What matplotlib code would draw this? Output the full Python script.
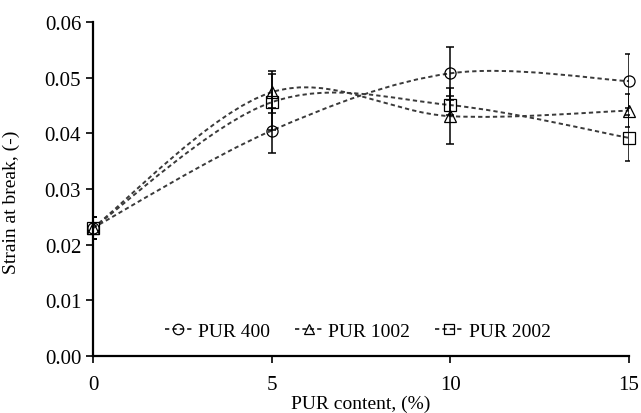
import matplotlib
matplotlib.use('Agg')
import matplotlib.pyplot as plt
from matplotlib.path import Path
from matplotlib.patches import PathPatch
from matplotlib.lines import Line2D

plt.rcParams['font.family'] = ['Liberation Serif', 'DejaVu Serif']

# data
pur_content = [0, 5, 10, 15]
pur400 = [0.023, 0.0405, 0.0508, 0.0494]
pur400_err = [0.002, 0.004, 0.0048, 0.0048]
pur1002 = [0.023, 0.0474, 0.0431, 0.0441]
pur1002_err = [0.002, 0.0038, 0.005, 0.003]
pur2002 = [0.023, 0.0456, 0.0451, 0.0392]
pur2002_err = [0.002, 0.005, 0.0017, 0.0042]
labels = ['PUR 400', 'PUR 1002', 'PUR 2002']
markers = ['o', '^', 's']

line_col = '#3a3a3a'
dash = (0, (2.2, 1.6))


def smooth_path(x, y):
    # excel style smoothed line: cubic bezier through every point
    n = len(x)
    verts = [(x[0], y[0])]
    codes = [Path.MOVETO]
    for i in range(n - 1):
        i0 = max(i - 1, 0)
        i3 = min(i + 2, n - 1)
        c1 = (x[i] + (x[i + 1] - x[i0]) / 6.0, y[i] + (y[i + 1] - y[i0]) / 6.0)
        c2 = (x[i + 1] - (x[i3] - x[i]) / 6.0, y[i + 1] - (y[i3] - y[i]) / 6.0)
        verts += [c1, c2, (x[i + 1], y[i + 1])]
        codes += [Path.CURVE4] * 3
    return Path(verts, codes)


fig = plt.figure(figsize=(6.41, 4.14), dpi=100)
ax = fig.add_axes([0.145, 0.138, 0.836, 0.806])

handles = []
for vals, errs, lab, mk in zip([pur400, pur1002, pur2002],
                               [pur400_err, pur1002_err, pur2002_err],
                               labels, markers):
    ax.add_patch(PathPatch(smooth_path(pur_content, vals), fill=False,
                           edgecolor=line_col, lw=1.4, linestyle=dash, zorder=2))
    ax.errorbar(pur_content, vals, yerr=errs, fmt='none', ecolor='black',
                elinewidth=1.1, capsize=2.6, capthick=1.1, zorder=3)
    ax.plot(pur_content, vals, ls='none', marker=mk, ms=8, mfc='none',
            mec='black', mew=0.9, zorder=4, clip_on=False)
    handles.append(Line2D([], [], color=line_col, lw=1.4, linestyle=dash,
                          marker=mk, ms=7.5, mfc='none', mec='black', mew=0.9))

ax.set_xlim(0, 15)
ax.set_ylim(0, 0.06)
ax.set_xticks([0, 5, 10, 15])
ax.set_yticks([0, 0.01, 0.02, 0.03, 0.04, 0.05, 0.06])
ax.set_yticklabels(['%.2f' % v for v in ax.get_yticks()])
ax.tick_params(labelsize=15, width=1.2, length=5, direction='out', color='black')
ax.tick_params(axis='x', pad=9)
for s in ['top', 'right']:
    ax.spines[s].set_visible(False)
for s in ['left', 'bottom']:
    ax.spines[s].set_linewidth(1.6)

ax.set_xlabel('PUR content, (%)', fontsize=14, labelpad=0)
ax.set_ylabel('Strain at break, (-)', fontsize=14)
ax.yaxis.set_label_coords(-0.136, 0.464)

ax.legend(handles, labels, loc='center', bbox_to_anchor=(0.494, 0.075),
          ncol=3, frameon=False, fontsize=14, handlelength=1.4,
          handletextpad=0.3, columnspacing=1.3)

fig.savefig('out.png', dpi=100)
